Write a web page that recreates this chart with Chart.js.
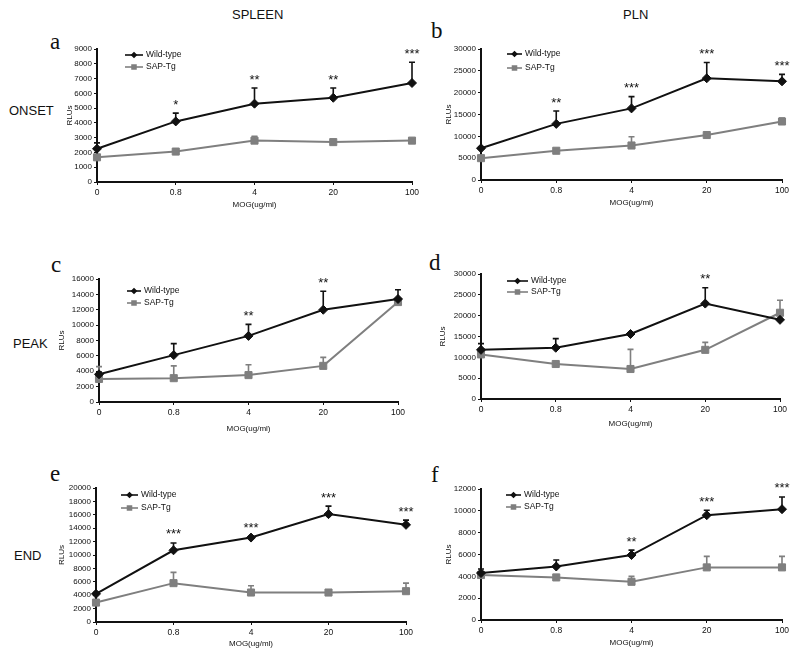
<!DOCTYPE html>
<html lang="en">
<head>
<meta charset="UTF-8">
<title>MOG dose response - SPLEEN / PLN</title>
<script src="https://cdn.jsdelivr.net/npm/chart.js"></script>
<style>
  body { margin: 0; background: #fff; width: 800px; height: 659px; position: relative; overflow: hidden;
         font-family: "Liberation Sans", Arial, sans-serif; color: #111; }
  canvas { position: absolute; }
  .head { position: absolute; font-size: 13px; line-height: 13px; }
  .letter { position: absolute; font-family: "Liberation Serif", "Times New Roman", serif; font-size: 23px; line-height: 22px; }
</style>
</head>
<body>
<div class="head" style="left:232px;top:8px">SPLEEN</div>
<div class="head" style="left:623px;top:8px">PLN</div>
<div class="head" style="left:9px;top:104px">ONSET</div>
<div class="head" style="left:13px;top:337px">PEAK</div>
<div class="head" style="left:14px;top:549px">END</div>
<div class="letter" style="left:50px;top:31px">a</div>
<div class="letter" style="left:431px;top:20px">b</div>
<div class="letter" style="left:51px;top:254px">c</div>
<div class="letter" style="left:429px;top:252px">d</div>
<div class="letter" style="left:50px;top:463px">e</div>
<div class="letter" style="left:431px;top:464px">f</div>

<script>
// MOG doses on the x axis
const doses = ['0', '0.8', '4', '20', '100'];
const seriesNames = ['Wild-type', 'SAP-Tg'];

// a - onset, spleen
const onsetSpleenWt = [2250, 4100, 5300, 5700, 6700];
const onsetSpleenWtSd = [400, 560, 1060, 660, 1400];
const onsetSpleenSap = [1670, 2060, 2800, 2700, 2800];
const onsetSpleenSapSd = [150, 100, 300, 100, 100];
const onsetSpleenStars = ['', '*', '**', '**', '***'];

// b - onset, PLN
const onsetPlnWt = [7270, 12850, 16400, 23300, 22600];
const onsetPlnWtSd = [300, 2950, 2700, 3600, 1600];
const onsetPlnSap = [5000, 6700, 7900, 10300, 13400];
const onsetPlnSapSd = [300, 300, 2000, 300, 800];
const onsetPlnStars = ['', '**', '***', '***', '***'];

// c - peak, spleen
const peakSpleenWt = [3600, 6100, 8600, 12000, 13400];
const peakSpleenWtSd = [300, 1500, 1500, 2400, 1200];
const peakSpleenSap = [3000, 3100, 3500, 4700, 13000];
const peakSpleenSapSd = [1600, 1600, 1350, 1100, 300];
const peakSpleenStars = ['', '', '**', '**', ''];

// d - peak, PLN
const peakPlnWt = [11800, 12300, 15600, 22900, 19000];
const peakPlnWtSd = [1500, 2200, 300, 3800, 300];
const peakPlnSap = [10700, 8400, 7200, 11800, 20700];
const peakPlnSapSd = [700, 300, 4700, 1800, 3000];
const peakPlnStars = ['', '', '', '**', ''];

// e - end, spleen
const endSpleenWt = [4200, 10700, 12600, 16100, 14500];
const endSpleenWtSd = [200, 1100, 200, 1200, 700];
const endSpleenSap = [2900, 5800, 4400, 4400, 4600];
const endSpleenSapSd = [300, 1600, 1000, 200, 1200];
const endSpleenStars = ['', '***', '***', '***', '***'];

// f - end, PLN
const endPlnWt = [4300, 4900, 5950, 9600, 10150];
const endPlnWtSd = [370, 600, 450, 450, 1120];
const endPlnSap = [4120, 3900, 3500, 4820, 4820];
const endPlnSapSd = [200, 150, 500, 1010, 1010];
const endPlnStars = ['', '', '**', '***', '***'];

// y axis ranges, panels a..f
const yMax = [9000, 30000, 16000, 30000, 20000, 12000];
const yStep = [1000, 5000, 2000, 5000, 2000, 2000];

// where each plot area sits on the page
const panels = [
  { wt: onsetSpleenWt, wtSd: onsetSpleenWtSd, sap: onsetSpleenSap, sapSd: onsetSpleenSapSd, stars: onsetSpleenStars,
    L: 97, R: 412, T: 49, B: 182, yw: 32, xh: 28, lg: { dx: 28, dy: 6, gap: 12, len: 18 } },
  { wt: onsetPlnWt, wtSd: onsetPlnWtSd, sap: onsetPlnSap, sapSd: onsetPlnSapSd, stars: onsetPlnStars,
    L: 481, R: 782, T: 49, B: 180, yw: 37, xh: 28, lg: { dx: 26, dy: 5, gap: 14, len: 15 } },
  { wt: peakSpleenWt, wtSd: peakSpleenWtSd, sap: peakSpleenSap, sapSd: peakSpleenSapSd, stars: peakSpleenStars,
    L: 99, R: 398, T: 279, B: 402, yw: 42, xh: 32, lg: { dx: 28, dy: 12, gap: 12, len: 14 } },
  { wt: peakPlnWt, wtSd: peakPlnWtSd, sap: peakPlnSap, sapSd: peakPlnSapSd, stars: peakPlnStars,
    L: 481, R: 780, T: 274, B: 399, yw: 43, xh: 30, lg: { dx: 26, dy: 7, gap: 11, len: 21 } },
  { wt: endSpleenWt, wtSd: endSpleenWtSd, sap: endSpleenSap, sapSd: endSpleenSapSd, stars: endSpleenStars,
    L: 96, R: 406, T: 488, B: 622, yw: 39, xh: 27, lg: { dx: 25, dy: 7, gap: 13, len: 17 } },
  { wt: endPlnWt, wtSd: endPlnWtSd, sap: endPlnSap, sapSd: endPlnSapSd, stars: endPlnStars,
    L: 481, R: 782, T: 489, B: 620, yw: 37, xh: 28, lg: { dx: 25, dy: 6, gap: 12, len: 15 } }
];

const FONT = '"Liberation Sans", Arial, sans-serif';
const padTop = 8, padRight = 16;

// error bars (upper half only), asterisks and the little in-plot legend
function makeExtras(p) {
  return {
    id: 'extras',
    beforeDatasetsDraw(chart) {
      const { ctx, scales: { x, y } } = chart;
      chart.data.datasets.forEach(ds => {
        ctx.save();
        ctx.strokeStyle = ds.borderColor;
        ctx.lineWidth = 1.6;
        ds.sd.forEach((sd, i) => {
          const px = x.getPixelForValue(i);
          const y0 = y.getPixelForValue(ds.data[i]);
          const y1 = y.getPixelForValue(ds.data[i] + sd);
          ctx.beginPath();
          ctx.moveTo(px, y0);
          ctx.lineTo(px, y1);
          ctx.moveTo(px - 3, y1);
          ctx.lineTo(px + 3, y1);
          ctx.stroke();
        });
        ctx.restore();
      });
    },
    afterDatasetsDraw(chart) {
      const { ctx, chartArea, scales: { x, y } } = chart;
      const wt = chart.data.datasets[0];
      ctx.save();
      ctx.fillStyle = '#111';
      ctx.font = '13px ' + FONT;
      ctx.textAlign = 'center';
      ctx.textBaseline = 'alphabetic';
      p.stars.forEach((s, i) => {
        if (!s) return;
        const top = y.getPixelForValue(wt.data[i] + wt.sd[i]);
        ctx.fillText(s, x.getPixelForValue(i), top - 4.5);
      });

      // legend
      const lg = p.lg;
      ctx.font = '8.5px ' + FONT;
      ctx.textAlign = 'left';
      ctx.textBaseline = 'middle';
      chart.data.datasets.forEach((ds, k) => {
        const lx = chartArea.left + lg.dx;
        const ly = chartArea.top + lg.dy + k * lg.gap;
        ctx.strokeStyle = ds.borderColor;
        ctx.fillStyle = ds.borderColor;
        ctx.lineWidth = 1.6;
        ctx.beginPath();
        ctx.moveTo(lx, ly);
        ctx.lineTo(lx + lg.len, ly);
        ctx.stroke();
        Chart.helpers.drawPoint(ctx, {
          pointStyle: ds.pointStyle, radius: k === 0 ? 2.2 : 2.8, borderWidth: 1, rotation: 0
        }, lx + lg.len / 2, ly);
        ctx.fillStyle = '#111';
        ctx.fillText(ds.label, lx + lg.len + 3, ly);
      });
      ctx.restore();
    }
  };
}

panels.forEach((p, n) => {
  const cv = document.createElement('canvas');
  const w = p.R - p.L + p.yw + padRight;
  const h = p.B - p.T + padTop + p.xh;
  cv.width = w;
  cv.height = h;
  cv.style.left = (p.L - p.yw) + 'px';
  cv.style.top = (p.T - padTop) + 'px';
  cv.style.width = w + 'px';
  cv.style.height = h + 'px';
  document.body.appendChild(cv);

  new Chart(cv.getContext('2d'), {
    type: 'line',
    data: {
      labels: doses,
      datasets: [
        {
          label: seriesNames[0], data: p.wt, sd: p.wtSd,
          borderColor: '#111', backgroundColor: '#111', borderWidth: 2,
          pointStyle: 'rectRot', pointRadius: 4.5, pointBorderWidth: 1,
          pointBackgroundColor: '#111', pointBorderColor: '#111', tension: 0
        },
        {
          label: seriesNames[1], data: p.sap, sd: p.sapSd,
          borderColor: '#7f7f7f', backgroundColor: '#7f7f7f', borderWidth: 2,
          pointStyle: 'rect', pointRadius: 5, pointBorderWidth: 1,
          pointBackgroundColor: '#7f7f7f', pointBorderColor: '#7f7f7f', tension: 0
        }
      ]
    },
    options: {
      responsive: false,
      animation: false,
      devicePixelRatio: 1,
      layout: { padding: { top: padTop, right: padRight, left: 0, bottom: 0 } },
      plugins: { legend: { display: false }, tooltip: { enabled: false } },
      scales: {
        x: {
          type: 'category',
          offset: false,
          afterFit: s => { s.height = p.xh; },
          border: { display: true, color: '#111', width: 2 },
          grid: { display: true, drawOnChartArea: false, drawTicks: true, tickLength: 3, color: '#111' },
          ticks: { color: '#111', font: { family: FONT, size: 8.5 }, padding: 3, maxRotation: 0, autoSkip: false },
          title: { display: true, text: 'MOG(ug/ml)', color: '#111', font: { family: FONT, size: 8 }, padding: 0 }
        },
        y: {
          min: 0, max: yMax[n],
          afterFit: s => { s.width = p.yw; },
          border: { display: true, color: '#111', width: 2 },
          grid: { display: true, drawOnChartArea: false, drawTicks: true, tickLength: 3, color: '#111' },
          ticks: { stepSize: yStep[n], color: '#111', font: { family: FONT, size: 8 }, padding: 2,
                   callback: v => String(v) },
          title: { display: true, text: 'RLUs', color: '#111', font: { family: FONT, size: 8 }, padding: 0 }
        }
      }
    },
    plugins: [makeExtras(p)]
  });
});
</script>
</body>
</html>
